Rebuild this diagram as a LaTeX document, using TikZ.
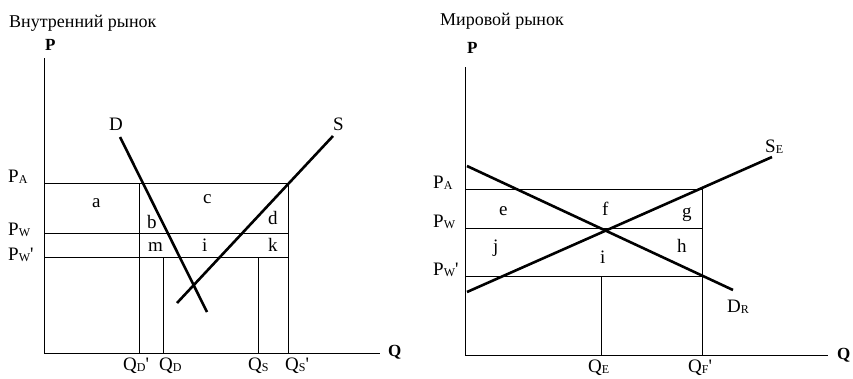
\documentclass[tikz,border=0pt]{standalone}
\usepackage{fontspec}
\setmainfont{Liberation Serif}
\newcommand\sbs[1]{\raisebox{-0.2ex}{\fontsize{12}{12}\selectfont #1}}
\newcommand\prm{\textquotesingle}
\begin{document}
\begin{tikzpicture}[x=1pt,y=-1pt,
  thin line/.style={line width=1pt},
  thick line/.style={line width=2.6pt},
  lbl/.style={inner sep=0pt,anchor=base west,font=\fontsize{19}{19}\selectfont},
  axl/.style={inner sep=0pt,anchor=base west,font=\fontsize{17}{17}\selectfont\bfseries},
  ttl/.style={inner sep=0pt,anchor=base west,font=\fontsize{18}{18}\selectfont}]
\useasboundingbox (0,0) rectangle (853,378);
% ---------- left panel ----------
\node[ttl] (t1) at (9,27) {Внутренний рынок};
\coordinate (lo) at (44,353);
\coordinate (ltop) at (44,58);
\coordinate (lq) at (380,353);
\draw[thin line] (ltop) -- (lo) -- (lq);
\node[axl] (lP) at (45,50) {P};
\node[axl] (lQ) at (388,356) {Q};
% horizontals
\coordinate (lpa0) at (44,183); \coordinate (lpa1) at (288,183);
\coordinate (lpw0) at (44,233); \coordinate (lpw1) at (288,233);
\coordinate (lpv0) at (44,257); \coordinate (lpv1) at (288,257);
\draw[thin line] (lpa0) -- (lpa1);
\draw[thin line] (lpw0) -- (lpw1);
\draw[thin line] (lpv0) -- (lpv1);
% verticals
\coordinate (qd1a) at (139.5,183); \coordinate (qd1b) at (139.5,353);
\coordinate (qda) at (163,257); \coordinate (qdb) at (163,353);
\coordinate (qsa) at (258,257); \coordinate (qsb) at (258,353);
\coordinate (qs1a) at (288,183); \coordinate (qs1b) at (288,353);
\draw[thin line] (qd1a) -- (qd1b);
\draw[thin line] (qda) -- (qdb);
\draw[thin line] (qsa) -- (qsb);
\draw[thin line] (qs1a) -- (qs1b);
% curves
\coordinate (d0) at (120,137); \coordinate (d1) at (207,312);
\coordinate (s0) at (177,303); \coordinate (s1) at (333,136);
\draw[thick line] (d0) -- (d1);
\draw[thick line] (s0) -- (s1);
\node[lbl] (lD) at (109,130) {D};
\node[lbl] (lS) at (333,130) {S};
% price labels
\node[lbl] (lPA) at (8,182) {P\sbs{A}};
\node[lbl] (lPW) at (8,235) {P\sbs{W}};
\node[lbl] (lPW1) at (8,260) {P\sbs{W}\prm};
% quantity labels
\node[lbl] (lQD1) at (123,370) {Q\sbs{D}\prm};
\node[lbl] (lQD) at (159,370) {Q\sbs{D}};
\node[lbl] (lQS) at (248,370) {Q\sbs{S}};
\node[lbl] (lQS1) at (285,370) {Q\sbs{S}\prm};
% area labels
\node[lbl] (la) at (92,207) {a};
\node[lbl] (lc) at (203,203) {c};
\node[lbl] (lb) at (147,228) {b};
\node[lbl] (ld) at (268,224) {d};
\node[lbl] (lm) at (148,251) {m};
\node[lbl] (li) at (202,251) {i};
\node[lbl] (lk) at (268,251) {k};
% ---------- right panel ----------
\node[ttl] (t2) at (440,25) {Мировой рынок};
\coordinate (ro) at (465,355);
\coordinate (rtop) at (465,67);
\coordinate (rq) at (828,355);
\draw[thin line] (rtop) -- (ro) -- (rq);
\node[axl] (rP) at (467,53) {P};
\node[axl] (rQ) at (837,359) {Q};
\coordinate (rpa0) at (465,189); \coordinate (rpa1) at (702,189);
\coordinate (rpw0) at (465,228); \coordinate (rpw1) at (702,228);
\coordinate (rpv0) at (465,276); \coordinate (rpv1) at (702,276);
\draw[thin line] (rpa0) -- (rpa1);
\draw[thin line] (rpw0) -- (rpw1);
\draw[thin line] (rpv0) -- (rpv1);
\coordinate (qfa) at (702,189); \coordinate (qfb) at (702,355);
\coordinate (qea) at (601,276); \coordinate (qeb) at (601,355);
\draw[thin line] (qfa) -- (qfb);
\draw[thin line] (qea) -- (qeb);
\coordinate (dr0) at (467,166); \coordinate (dr1) at (733,290);
\coordinate (se0) at (467,292); \coordinate (se1) at (772,157);
\draw[thick line] (dr0) -- (dr1);
\draw[thick line] (se0) -- (se1);
\node[lbl] (rSE) at (765,152) {S\sbs{E}};
\node[lbl] (rDR) at (727,312) {D\sbs{R}};
\node[lbl] (rPA) at (433,188) {P\sbs{A}};
\node[lbl] (rPW) at (433,227) {P\sbs{W}};
\node[lbl] (rPW1) at (433,275) {P\sbs{W}\prm};
\node[lbl] (rQE) at (588,372) {Q\sbs{E}};
\node[lbl] (rQF) at (688,372) {Q\sbs{F}\prm};
\node[lbl] (rc) at (499,215) {e};
\node[lbl] (rf) at (602,215) {f};
\node[lbl] (rg) at (682,217) {g};
\node[lbl] (rj) at (493,252) {j};
\node[lbl] (rh) at (677,252) {h};
\node[lbl] (ri) at (600,263) {i};
\end{tikzpicture}
\end{document}
